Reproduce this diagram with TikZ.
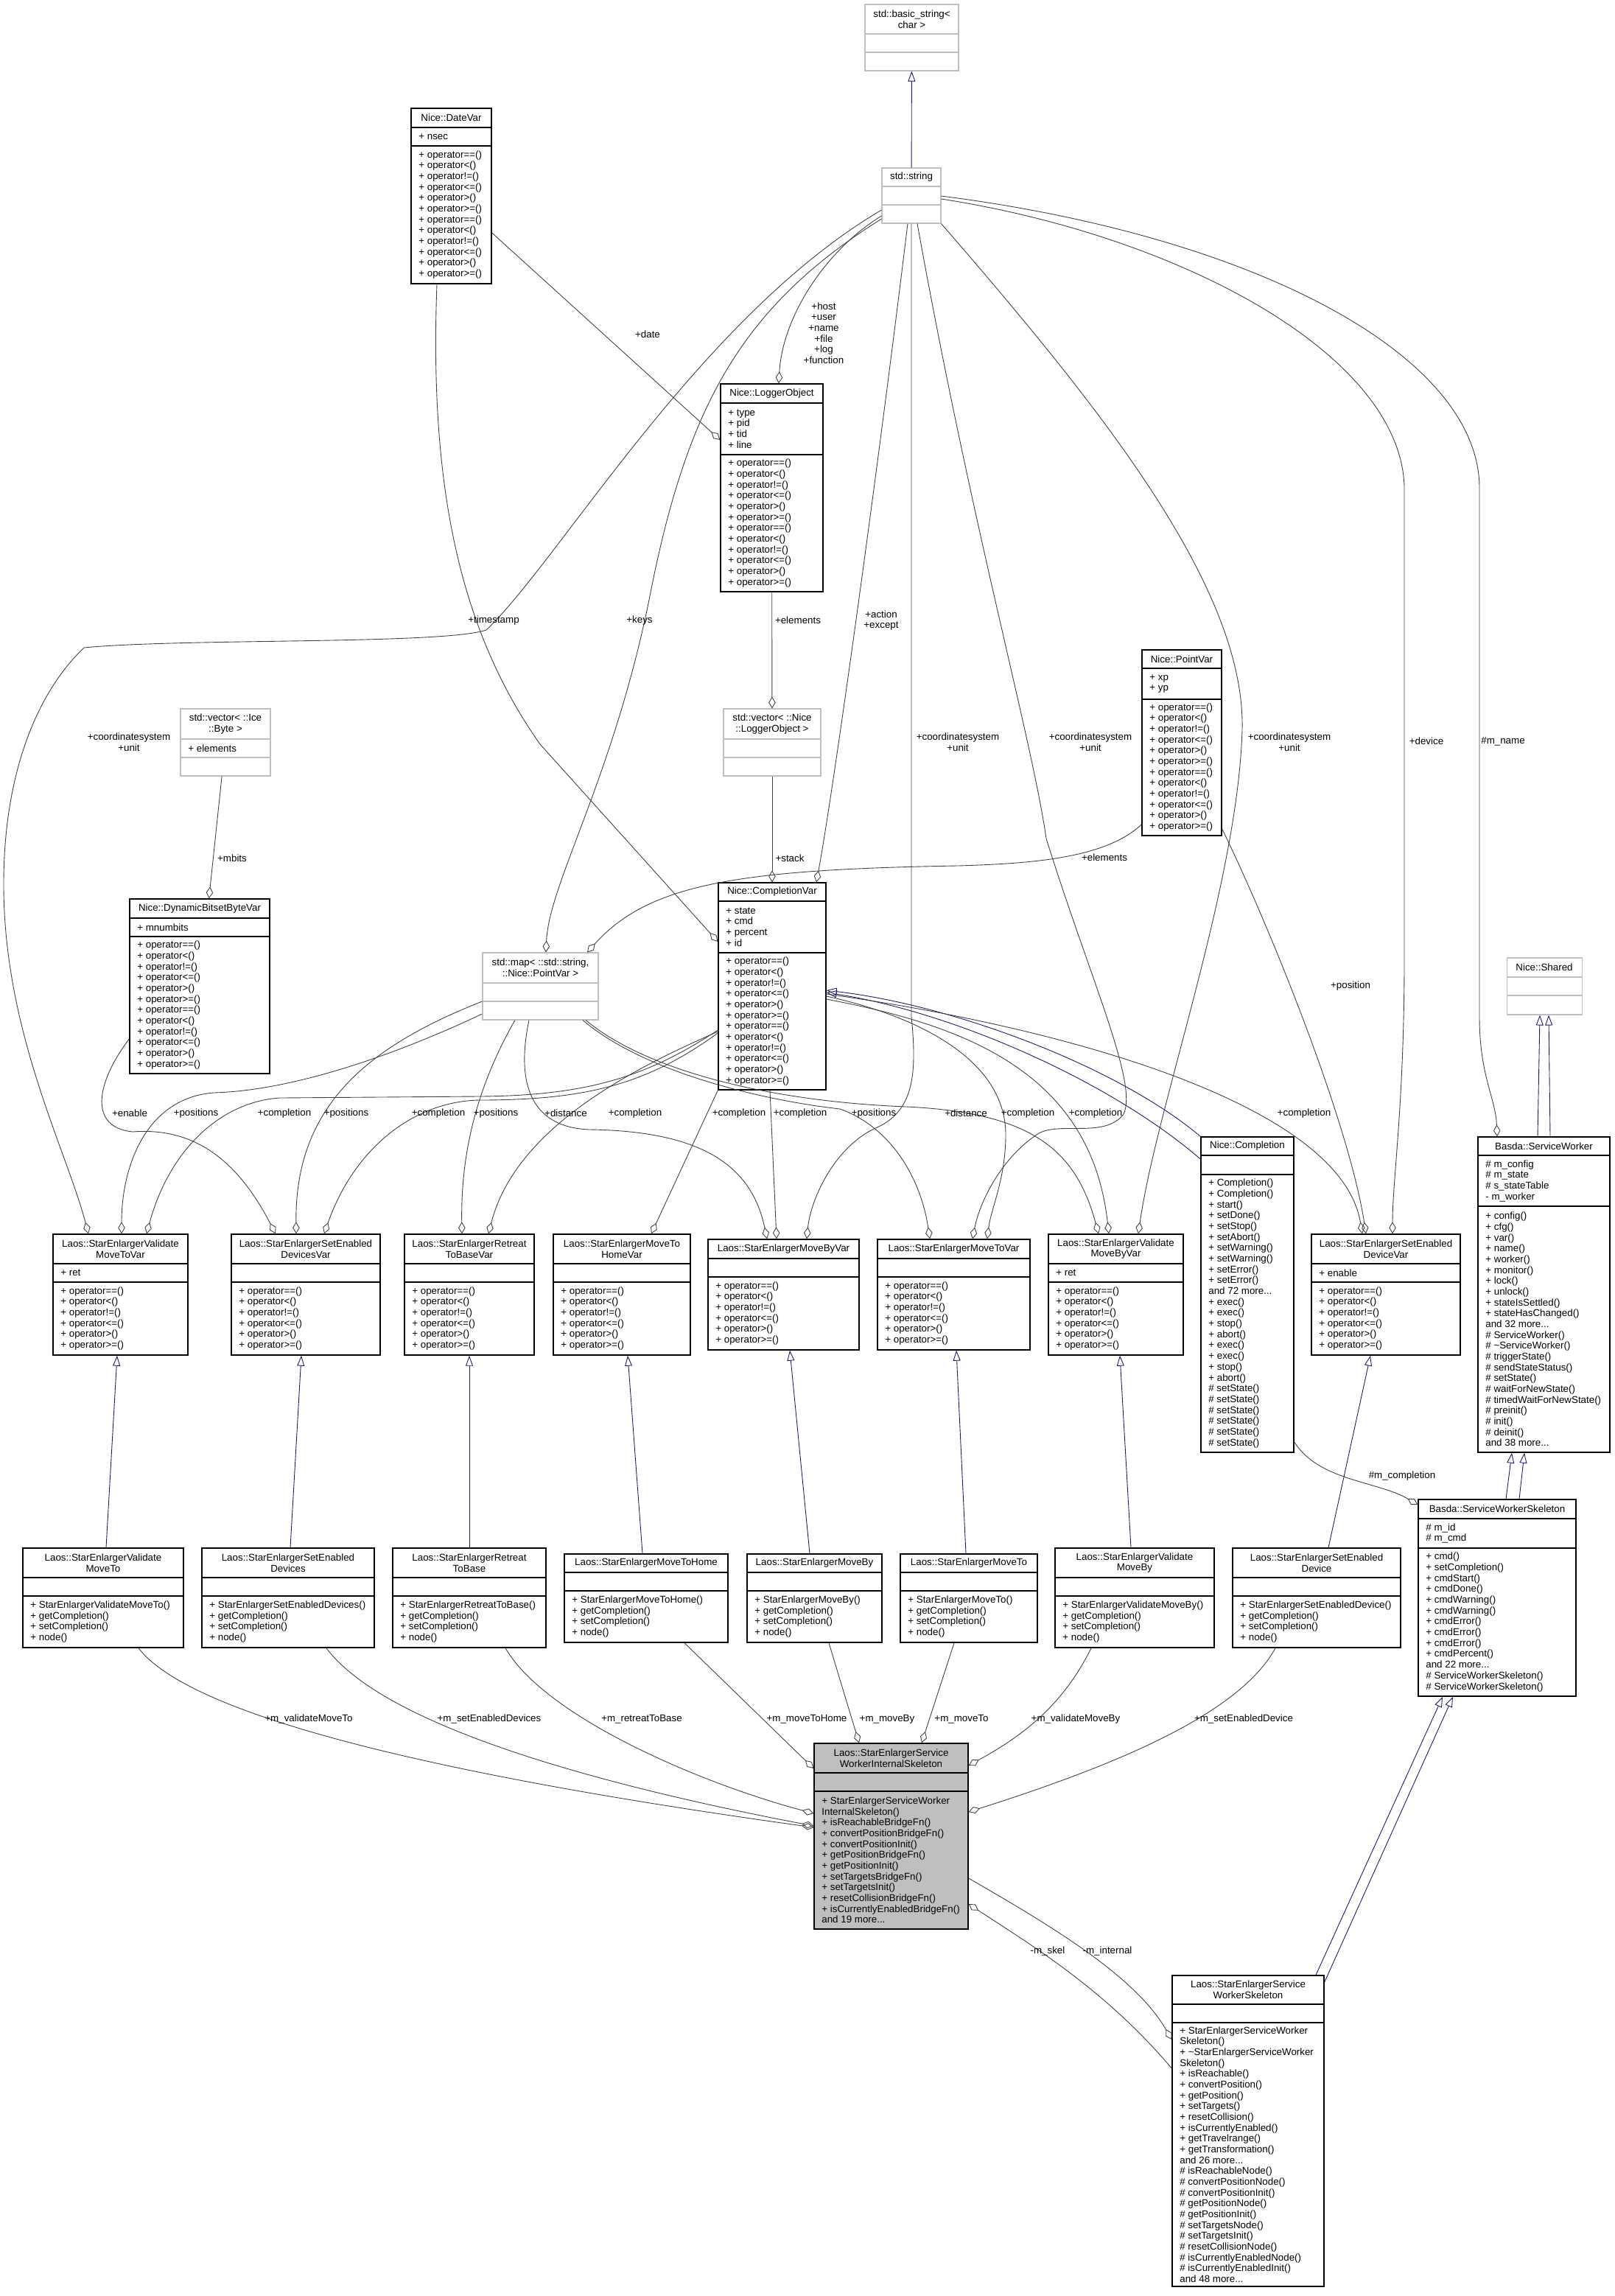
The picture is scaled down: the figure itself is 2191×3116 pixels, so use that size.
\documentclass[tikz,border=0pt]{standalone}
\usepackage{fontspec}
\setmainfont{Liberation Sans}
\usetikzlibrary{arrows.meta,fit}

\definecolor{edgegrey}{HTML}{404040}
\definecolor{inhblue}{HTML}{191970}
\definecolor{boxgrey}{HTML}{BFBFBF}

\newcommand{\dxfont}{\fontsize{7.6}{8.35}\selectfont}

\tikzstyle{cls} = [
  draw=black,
  line width=0.8pt,
]
\tikzstyle{undoc} = [
  draw=boxgrey,
  line width=0.6pt,
]
\tikzstyle{focus} = [
  draw=black,
  line width=0.8pt,
  fill=boxgrey,
]
\tikzstyle{clsname} = [
  font=\dxfont,
  align=center,
  inner sep=0pt,
]
\tikzstyle{members} = [
  font=\dxfont,
  align=left,
  anchor=west,
  inner sep=0pt,
]
\tikzstyle{lbl} = [
  font=\dxfont,
  align=center,
  inner sep=0pt,
]
\tikzstyle{agg} = [
  draw=edgegrey,
  line width=0.5pt,
  -{Diamond[open,length=0.32cm,width=0.19cm]},
]
\tikzstyle{inh} = [
  draw=inhblue,
  line width=0.5pt,
  -{Triangle[open,length=0.28cm,width=0.2cm]},
]

\newcommand{\opsix}{+ operator==()\\+ operator<()\\+ operator!=()\\+ operator<=()\\+ operator>()\\+ operator>=()}
\newcommand{\optwelve}{\opsix\\\opsix}
\newcommand{\accessors}{+ getCompletion()\\+ setCompletion()\\+ node()}

% left,top,right,bottom,head line,attribute line
\def\boxgeom#1,#2,#3,#4,#5,#6\relax{\def\cxl{#1}\def\cyt{#2}\def\cxr{#3}\def\cyb{#4}\def\cyh{#5}\def\cya{#6}}
\newcommand{\classbox}[6][cls]{%
  \boxgeom#3\relax
  \node[#1, fit={(\cxl,\cyt) (\cxr,\cyb)}, inner sep=0pt] (#2) {};
  \draw[#1, fill=none] (\cxl,\cyh) -- (\cxr,\cyh) (\cxl,\cya) -- (\cxr,\cya);
  \node[clsname] at ({(\cxl+\cxr)/2},{(\cyt+\cyh)/2}) {#4};
  \node[members] at ({\cxl+10},{(\cyh+\cya)/2}) {#5};
  \node[members] at ({\cxl+10},{(\cya+\cyb)/2}) {#6};
}

\begin{document}
\begin{tikzpicture}[
    x=0.02cm,
    y=-0.02cm,
  ]
  \useasboundingbox (0,0) rectangle (2191,3116);

  \classbox[undoc]{bstr}{1174,6,1301,96,46,71}{std::basic\_string<\\ char >}{}{}
  \classbox[undoc]{str}{1197,228,1277,303,253,278}{std::string}{}{}
  \classbox{date}{558,147,667,385,173,198}{Nice::DateVar}{+ nsec}{\optwelve}
  \classbox{logger}{978,521,1117,803,547,617}{Nice::LoggerObject}{+ type\\+ pid\\+ tid\\+ line}{\optwelve}
  \classbox[undoc]{vlog}{982,962,1114,1053,1003,1028}{std::vector< ::Nice\\::LoggerObject >}{}{}
  \classbox[undoc]{vbyte}{245,962,367,1053,1003,1028}{std::vector< ::Ice\\::Byte >}{+ elements}{}
  \classbox{dbbv}{176,1220,366,1457,1246,1271}{Nice::DynamicBitsetByteVar}{+ mnumbits}{\optwelve}
  \classbox[undoc]{map}{655,1293,812,1384,1334,1359}{std::map< ::std::string,\\ ::Nice::PointVar >}{}{}
  \classbox{cvar}{975,1198,1121,1479,1223,1293}{Nice::CompletionVar}{+ state\\+ cmd\\+ percent\\+ id}{\optwelve}
  \classbox{point}{1550,882,1658,1134,907,949}{Nice::PointVar}{+ xp\\+ yp}{\optwelve}
  \classbox[undoc]{shared}{2045,1300,2147,1377,1326,1351}{Nice::Shared}{}{}
  \classbox{worker}{2006,1543,2185,1971,1568,1637}{Basda::ServiceWorker}%
    {\# m\_config\\\# m\_state\\\# s\_stateTable\\- m\_worker}%
    {+ config()\\+ cfg()\\+ var()\\+ name()\\+ worker()\\+ monitor()\\+ lock()\\+ unlock()\\+ stateIsSettled()\\+ stateHasChanged()\\and 32 more...\\\# ServiceWorker()\\\# \textasciitilde ServiceWorker()\\\# triggerState()\\\# sendStateStatus()\\\# setState()\\\# waitForNewState()\\\# timedWaitForNewState()\\\# preinit()\\\# init()\\\# deinit()\\and 38 more...}
  \classbox{compl}{1630,1543,1756,1971,1568,1594}{Nice::Completion}{}%
    {+ Completion()\\+ Completion()\\+ start()\\+ setDone()\\+ setStop()\\+ setAbort()\\+ setWarning()\\+ setWarning()\\+ setError()\\+ setError()\\and 72 more...\\+ exec()\\+ exec()\\+ stop()\\+ abort()\\+ exec()\\+ exec()\\+ stop()\\+ abort()\\\# setState()\\\# setState()\\\# setState()\\\# setState()\\\# setState()\\\# setState()}
  \classbox{sedv}{1780,1675,1982,1839,1715,1740}{Laos::StarEnlargerSetEnabled\\DeviceVar}{+ enable}{\opsix}
  \classbox{vmbv}{1423,1675,1606,1839,1715,1740}{Laos::StarEnlargerValidate\\MoveByVar}{+ ret}{\opsix}
  \classbox{mtv}{1191,1682,1398,1832,1708,1733}{Laos::StarEnlargerMoveToVar}{}{\opsix}
  \classbox{mbv}{961,1682,1166,1832,1708,1733}{Laos::StarEnlargerMoveByVar}{}{\opsix}
  \classbox{mthv}{751,1675,937,1839,1715,1740}{Laos::StarEnlargerMoveTo\\HomeVar}{}{\opsix}
  \classbox{rtbv}{549,1675,725,1839,1715,1740}{Laos::StarEnlargerRetreat\\ToBaseVar}{}{\opsix}
  \classbox{sedsv}{314,1675,516,1839,1715,1740}{Laos::StarEnlargerSetEnabled\\DevicesVar}{}{\opsix}
  \classbox{vmtv}{72,1675,255,1839,1715,1740}{Laos::StarEnlargerValidate\\MoveToVar}{+ ret}{\opsix}

  \classbox{vmt}{31,2101,249,2236,2141,2166}{Laos::StarEnlargerValidate\\MoveTo}{}{+ StarEnlargerValidateMoveTo()\\\accessors}
  \classbox{seds}{274,2101,508,2236,2141,2166}{Laos::StarEnlargerSetEnabled\\Devices}{}{+ StarEnlargerSetEnabledDevices()\\\accessors}
  \classbox{rtb}{533,2101,741,2236,2141,2166}{Laos::StarEnlargerRetreat\\ToBase}{}{+ StarEnlargerRetreatToBase()\\\accessors}
  \classbox{mth}{766,2109,988,2229,2134,2159}{Laos::StarEnlargerMoveToHome}{}{+ StarEnlargerMoveToHome()\\\accessors}
  \classbox{mb}{1014,2109,1197,2229,2134,2159}{Laos::StarEnlargerMoveBy}{}{+ StarEnlargerMoveBy()\\\accessors}
  \classbox{mt}{1222,2109,1408,2229,2134,2159}{Laos::StarEnlargerMoveTo}{}{+ StarEnlargerMoveTo()\\\accessors}
  \classbox{vmb}{1432,2101,1648,2236,2141,2166}{Laos::StarEnlargerValidate\\MoveBy}{}{+ StarEnlargerValidateMoveBy()\\\accessors}
  \classbox{sed}{1673,2101,1901,2236,2141,2166}{Laos::StarEnlargerSetEnabled\\Device}{}{+ StarEnlargerSetEnabledDevice()\\\accessors}
  \classbox{skel}{1925,2035,2139,2302,2061,2101}{Basda::ServiceWorkerSkeleton}{\# m\_id\\\# m\_cmd}%
    {+ cmd()\\+ setCompletion()\\+ cmdStart()\\+ cmdDone()\\+ cmdWarning()\\+ cmdWarning()\\+ cmdError()\\+ cmdError()\\+ cmdError()\\+ cmdPercent()\\and 22 more...\\\# ServiceWorkerSkeleton()\\\# ServiceWorkerSkeleton()}
  \classbox[focus]{inter}{1105,2366,1314,2618,2406,2431}{Laos::StarEnlargerService\\WorkerInternalSkeleton}{}%
    {+ StarEnlargerServiceWorker\\InternalSkeleton()\\+ isReachableBridgeFn()\\+ convertPositionBridgeFn()\\+ convertPositionInit()\\+ getPositionBridgeFn()\\+ getPositionInit()\\+ setTargetsBridgeFn()\\+ setTargetsInit()\\+ resetCollisionBridgeFn()\\+ isCurrentlyEnabledBridgeFn()\\and 19 more...}
  \classbox{esws}{1591,2681,1797,3103,2720,2745}{Laos::StarEnlargerService\\WorkerSkeleton}{}%
    {+ StarEnlargerServiceWorker\\Skeleton()\\+ \textasciitilde StarEnlargerServiceWorker\\Skeleton()\\+ isReachable()\\+ convertPosition()\\+ getPosition()\\+ setTargets()\\+ resetCollision()\\+ isCurrentlyEnabled()\\+ getTravelrange()\\+ getTransformation()\\and 26 more...\\\# isReachableNode()\\\# convertPositionNode()\\\# convertPositionInit()\\\# getPositionNode()\\\# getPositionInit()\\\# setTargetsNode()\\\# setTargetsInit()\\\# resetCollisionNode()\\\# isCurrentlyEnabledNode()\\\# isCurrentlyEnabledInit()\\and 48 more...}

  % inheritance
  \draw[inh] (str) -- (bstr);
  \draw[inh] (vmt.north -| 144,0) -- (vmtv.south -| 159,0);
  \draw[inh] (seds.north -| 394,0) -- (sedsv.south -| 409,0);
  \draw[inh] (rtb.north -| 637,0) -- (rtbv.south -| 637,0);
  \draw[inh] (mth.north -| 872,0) -- (mthv.south -| 852,0);
  \draw[inh] (mb.north -| 1099,0) -- (mbv.south -| 1072,0);
  \draw[inh] (mt.north -| 1311,0) -- (mtv.south -| 1298,0);
  \draw[inh] (vmb.north -| 1535,0) -- (vmbv.south -| 1520,0);
  \draw[inh] (sed.north -| 1803,0) -- (sedv.south -| 1860,0);
  \draw[inh] (compl.north west) .. controls (1520,1450) and (1300,1365) .. (cvar.east |- 0,1344);
  \draw[inh] (compl.west |- 0,1573) .. controls (1510,1470) and (1300,1375) .. (cvar.east |- 0,1347);
  \draw[inh] (skel.north -| 2044,0) -- (worker.south -| 2052,0);
  \draw[inh] (skel.north -| 2062,0) -- (worker.south -| 2069,0);
  \draw[inh] (worker.north -| 2087,0) -- (shared.south -| 2090,0);
  \draw[inh] (worker.north -| 2104,0) -- (shared.south -| 2102,0);
  \draw[inh] (esws.north -| 1786,0) -- (skel.south -| 1958,0);
  \draw[inh] (esws.east |- 0,2690) -- (skel.south -| 1972,0);

  % members
  \draw[agg] (str.west |- 0,293) .. controls (1120,340) and (1062,430) .. (logger.north -| 1057,0);
  \draw[agg] (str.west |- 0,285) .. controls (950,430) and (760,760) .. (660,855)
    .. controls (600,875) and (250,866) .. (114,879)
    .. controls (50,940) and (5,1050) .. (5,1200)
    .. controls (5,1400) and (90,1560) .. (vmtv.north -| 120,0);
  \draw[agg] (str.west |- 0,297) .. controls (1000,420) and (930,560) .. (880,819)
    .. controls (830,1060) and (745,1200) .. (map.north -| 741,0);
  \draw[agg] (str.south -| 1232,0) .. controls (1190,650) and (1130,1080) .. (cvar.north -| 1108,0);
  \draw[agg] (str.south -| 1237,0) -- (1237,1380) .. controls (1245,1460) and (1240,1510) .. (1186,1532)
    .. controls (1130,1560) and (1100,1630) .. (mbv.north -| 1095,0);
  \draw[agg] (str.south -| 1245,0) .. controls (1320,720) and (1400,1000) .. (1420,1138)
    .. controls (1480,1330) and (1545,1470) .. (1525,1512)
    .. controls (1500,1545) and (1440,1522) .. (1410,1538)
    .. controls (1360,1570) and (1330,1630) .. (mtv.north -| 1320,0);
  \draw[agg] (str.south east) .. controls (1500,560) and (1690,800) .. (1686,990)
    .. controls (1680,1200) and (1570,1500) .. (vmbv.north -| 1545,0);
  \draw[agg] (str.east |- 0,270) .. controls (1600,320) and (1900,480) .. (1906,660) -- (1906,1300)
    .. controls (1906,1500) and (1890,1600) .. (sedv.north -| 1890,0);
  \draw[agg] (str.east |- 0,266) .. controls (1700,320) and (2005,480) .. (2008,660) -- (2008,1380)
    .. controls (2008,1460) and (2030,1490) .. (worker.north -| 2032,0);
  \draw[agg] (date.east |- 0,316) -- (logger.west |- 0,597);
  \draw[agg] (date.south -| 593,0) .. controls (583,650) and (620,850) .. (733,1010) -- (cvar.west |- 0,1278);
  \draw[agg] (logger) -- (vlog);
  \draw[agg] (vlog) -- (cvar);
  \draw[agg] (vbyte) -- (dbbv);
  \draw[agg] (point.west |- 0,1119) .. controls (1500,1165) and (1400,1172) .. (1300,1175)
    .. controls (1000,1180) and (880,1200) .. (map.north -| 797,0);
  \draw[agg] (point.east |- 0,1125) .. controls (1720,1250) and (1830,1520) .. (sedv.north -| 1854,0);
  \draw[agg] (dbbv.west |- 0,1410) .. controls (130,1470) and (120,1530) .. (180,1536)
    .. controls (260,1530) and (320,1570) .. (sedsv.north -| 374,0);
  \draw[agg] (map.west |- 0,1376) .. controls (540,1430) and (400,1480) .. (290,1483)
    .. controls (200,1490) and (165,1580) .. (vmtv.north -| 165,0);
  \draw[agg] (map.west |- 0,1359) .. controls (500,1420) and (400,1500) .. (sedsv.north -| 402,0);
  \draw[agg] (cvar.west |- 0,1398) .. controls (880,1460) and (800,1487) .. (650,1488) -- (380,1490)
    .. controls (300,1495) and (230,1560) .. (vmtv.north -| 199,0);
  \draw[agg] (cvar.west |- 0,1402) .. controls (880,1470) and (800,1493) .. (650,1493)
    .. controls (560,1495) and (480,1560) .. (sedsv.north -| 440,0);
  \draw[agg] (map.south -| 699,0) .. controls (650,1470) and (625,1560) .. (rtbv.north -| 627,0);
  \draw[agg] (cvar.west |- 0,1400) .. controls (860,1450) and (700,1530) .. (rtbv.north -| 663,0);
  \draw[agg] (cvar.south west) -- (mthv.north -| 884,0);
  \draw[agg] (map.south -| 718,0) .. controls (700,1470) and (720,1530) .. (800,1533)
    .. controls (950,1535) and (1020,1580) .. (mbv.north -| 1041,0);
  \draw[agg] (cvar.south -| 1045,0) -- (mbv.north -| 1054,0);
  \draw[agg] (map.south -| 791,0) .. controls (880,1460) and (1050,1495) .. (1140,1505)
    .. controls (1210,1530) and (1250,1600) .. (mtv.north -| 1262,0);
  \draw[agg] (map.south -| 795,0) .. controls (880,1455) and (1050,1495) .. (1230,1502)
    .. controls (1400,1510) and (1460,1560) .. (vmbv.north -| 1491,0);
  \draw[agg] (cvar.east |- 0,1352) .. controls (1250,1380) and (1365,1440) .. (1365,1540)
    .. controls (1365,1600) and (1345,1640) .. (mtv.north -| 1340,0);
  \draw[agg] (cvar.east |- 0,1356) .. controls (1300,1390) and (1480,1450) .. (vmbv.north -| 1505,0);
  \draw[agg] (cvar.east |- 0,1349) .. controls (1450,1395) and (1820,1500) .. (sedv.north -| 1849,0);
  \draw[agg] (compl.east |- 0,1957) .. controls (1790,2010) and (1870,2010) .. (skel.west |- 0,2042);
  \draw[agg] (vmt.south -| 188,0) .. controls (260,2330) and (600,2410) .. (inter.west |- 0,2480);
  \draw[agg] (seds.south -| 443,0) .. controls (520,2340) and (800,2420) .. (inter.west |- 0,2478);
  \draw[agg] (rtb.south -| 686,0) .. controls (740,2330) and (950,2420) .. (inter.west |- 0,2461);
  \draw[agg] (mth.south -| 929,0) -- (inter.west |- 0,2400);
  \draw[agg] (mb.south -| 1125,0) -- (inter.north -| 1166,0);
  \draw[agg] (mt.south -| 1295,0) -- (inter.north -| 1251,0);
  \draw[agg] (vmb.south -| 1481,0) .. controls (1440,2320) and (1380,2360) .. (inter.east |- 0,2396);
  \draw[agg] (sed.south -| 1731,0) .. controls (1680,2330) and (1500,2400) .. (inter.east |- 0,2459);
  \draw[agg] (inter.east |- 0,2549) .. controls (1420,2610) and (1540,2680) .. (esws.west |- 0,2768);
  \draw[agg] (esws.west |- 0,2807) .. controls (1500,2700) and (1400,2640) .. (inter.east |- 0,2584);

  % labels
  \node[lbl] (lhost) at (1118,452) {+host\\+user\\+name\\+file\\+log\\+function};
  \node[lbl] (ldate) at (879,454) {+date};
  \node[lbl] (lstamp) at (670,842) {+timestamp};
  \node[lbl] (lkeys) at (868,842) {+keys};
  \node[lbl] (lelem) at (1083,842) {+elements};
  \node[lbl] (laction) at (1196,842) {+action\\+except};
  \node[lbl] (lcs1) at (175,1007) {+coordinatesystem\\+unit};
  \node[lbl] (lcs2) at (1300,1007) {+coordinatesystem\\+unit};
  \node[lbl] (lcs3) at (1480,1007) {+coordinatesystem\\+unit};
  \node[lbl] (lcs4) at (1750,1007) {+coordinatesystem\\+unit};
  \node[lbl] (ldevice) at (1936,1006) {+device};
  \node[lbl] (lname) at (2040,1006) {\#m\_name};
  \node[lbl] (lmbits) at (315,1165) {+mbits};
  \node[lbl] (lstack) at (1072,1165) {+stack};
  \node[lbl] (lpelem) at (1499,1164) {+elements};
  \node[lbl] (lpos) at (1833,1338) {+position};
  \node[lbl] (lenable) at (176,1511) {+enable};
  \node[lbl] (lpos1) at (266,1511) {+positions};
  \node[lbl] (lcomp1) at (386,1511) {+completion};
  \node[lbl] (lpos2) at (470,1511) {+positions};
  \node[lbl] (lcomp2) at (595,1511) {+completion};
  \node[lbl] (lpos3) at (673,1511) {+positions};
  \node[lbl] (ldist1) at (768,1511) {+distance};
  \node[lbl] (lcomp3) at (862,1511) {+completion};
  \node[lbl] (lcomp4) at (1003,1511) {+completion};
  \node[lbl] (lcomp5) at (1086,1511) {+completion};
  \node[lbl] (lpos4) at (1186,1511) {+positions};
  \node[lbl] (ldist2) at (1311,1511) {+distance};
  \node[lbl] (lcomp6) at (1395,1511) {+completion};
  \node[lbl] (lcomp7) at (1487,1511) {+completion};
  \node[lbl] (lcomp8) at (1770,1511) {+completion};
  \node[lbl] (lmcomp) at (1903,2003) {\#m\_completion};
  \node[lbl] (lvmt) at (419,2333) {+m\_validateMoveTo};
  \node[lbl] (lseds) at (664,2333) {+m\_setEnabledDevices};
  \node[lbl] (lrtb) at (871,2333) {+m\_retreatToBase};
  \node[lbl] (lmth) at (1095,2333) {+m\_moveToHome};
  \node[lbl] (lmb) at (1204,2333) {+m\_moveBy};
  \node[lbl] (lmt) at (1305,2333) {+m\_moveTo};
  \node[lbl] (lvmb) at (1460,2333) {+m\_validateMoveBy};
  \node[lbl] (lsed) at (1688,2333) {+m\_setEnabledDevice};
  \node[lbl] (lskel) at (1422,2648) {-m\_skel};
  \node[lbl] (linternal) at (1503,2648) {-m\_internal};
\end{tikzpicture}
\end{document}
